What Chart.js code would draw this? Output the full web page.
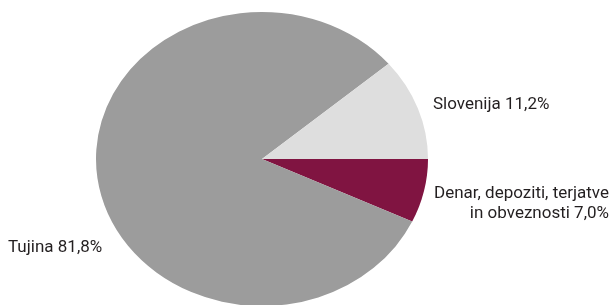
<!DOCTYPE html>
<html lang="sl">
<head>
    <meta charset="UTF-8">
    <title>Struktura</title>
    <script src="https://cdn.jsdelivr.net/npm/chart.js"></script>
    <style>
        html, body { margin: 0; padding: 0; background: #ffffff; overflow: hidden; }
        .wrap { position: relative; width: 614px; height: 305px; overflow: hidden; }
        .wrap canvas { position: absolute; left: 0; top: -7px; }
    </style>
</head>
<body>
    <div class="wrap">
        <canvas id="pie" width="614" height="340"></canvas>
    </div>

    <script>
        // podatki (v %), po vrsti v smeri urinega kazalca od desne
        const labels = ['Denar, depoziti, terjatve\nin obveznosti', 'Tujina', 'Slovenija'];
        const values = [7.0, 81.8, 11.2];
        const colors = ['#801441', '#9c9c9c', '#dedede'];

        const squashY = 0.886;  // tortni diagram je v izvirniku sploščen

        const fmt = v => v.toFixed(1).replace('.', ',') + '%';

        // položaji napisov (levo/desno poravnani)
        const labelPos = [
            { x: 609, y: 194, align: 'right' },
            { x: 8,   y: 248, align: 'left' },
            { x: 433, y: 105, align: 'left' }
        ];

        const squash = {
            id: 'squash',
            beforeDatasetsDraw(chart) {
                const a = chart.getDatasetMeta(0).data[0];
                const ctx = chart.ctx;
                ctx.save();
                ctx.translate(a.x, a.y);
                ctx.scale(1, squashY);
                ctx.translate(-a.x, -a.y);
            },
            afterDatasetsDraw(chart) {
                chart.ctx.restore();
            }
        };

        const pieLabels = {
            id: 'pieLabels',
            afterDraw(chart) {
                const ctx = chart.ctx;
                ctx.save();
                ctx.font = '17px Roboto, "Liberation Sans", sans-serif';
                ctx.fillStyle = '#231f20';
                ctx.textBaseline = 'middle';
                labels.forEach((l, i) => {
                    const lines = (l + ' ' + fmt(values[i])).split('\n');
                    const p = labelPos[i];
                    ctx.textAlign = p.align;
                    lines.forEach((t, j) => ctx.fillText(t, p.x, p.y + 7 + j * 20));
                });
                ctx.restore();
            }
        };

        new Chart(document.getElementById('pie'), {
            type: 'pie',
            data: {
                labels: labels,
                datasets: [{
                    data: values,
                    backgroundColor: colors,
                    borderWidth: 0
                }]
            },
            options: {
                responsive: false,
                animation: false,
                rotation: 90,
                layout: { padding: { left: 96, right: 186, top: 0, bottom: 8 } },
                plugins: {
                    legend: { display: false },
                    tooltip: { enabled: false }
                }
            },
            plugins: [squash, pieLabels]
        });
    </script>
</body>
</html>
